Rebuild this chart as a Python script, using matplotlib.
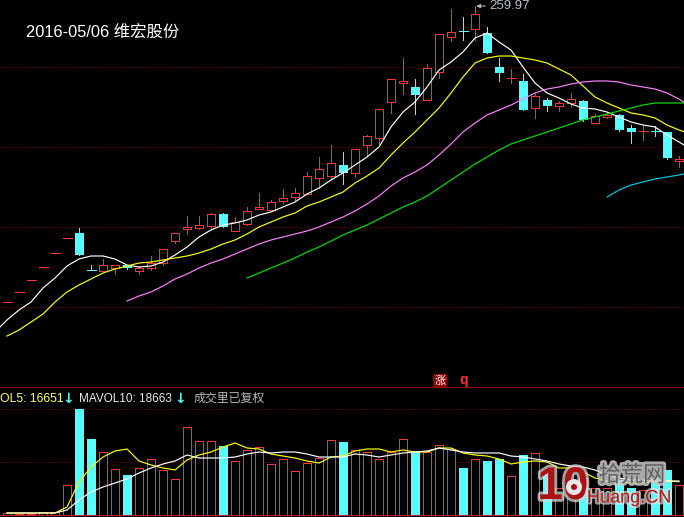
import matplotlib
matplotlib.use('Agg')
import matplotlib.pyplot as plt
import matplotlib.patheffects as pe
from matplotlib.patches import Circle, Rectangle

plt.rcParams['font.family'] = ['Liberation Sans', 'Noto Sans CJK SC', 'DejaVu Sans']

# candles, one row per trading day
OPEN = [112, 117, 123, 129.5, 136.5, 144, 146.5, 128, 127.5, 129, 130.5, 127.5, 129, 131.5, 142.5, 148.5, 149, 150, 156,
        147.5, 151, 158.5, 158, 162.5, 164.5, 166, 174, 175, 180.5, 176.5, 190.5, 194, 212, 221.5, 219.5, 213, 227, 244.5,
        247.5, 248.5, 246.5, 229.5, 224, 222.5, 209, 213, 210, 211.5, 212.5, 201.5, 204.5, 205.5, 199, 197.5, 197.5, 197, 182.5]
HIGH = [112, 117, 123, 129.5, 136.5, 144, 149, 130.5, 133.5, 130.5, 130.5, 130, 135, 138.5, 146.5, 155, 155, 156.5, 156.5,
        154.5, 159.5, 166.5, 163, 168.5, 169, 177, 184.5, 190.5, 187, 188.5, 195.5, 208.5, 223.5, 234, 223.5, 231, 246, 258.5,
        254.5, 259.97, 249.5, 234, 228.5, 226, 216.5, 214, 212.5, 216.5, 213, 206, 207, 206, 200.5, 200, 200, 197, 185]
LOW = [112, 117, 123, 129.5, 136.5, 144, 135.5, 128, 127.5, 126, 128.5, 126, 128, 130.5, 141.5, 146, 148.5, 149, 149.5,
       147.5, 150.5, 158.5, 158, 161.5, 163, 166, 169, 174, 171, 174.5, 185.5, 190.5, 206.5, 216, 206, 213, 224, 242.5,
       243, 243, 236.5, 222.5, 221.5, 208, 204, 207.5, 207.5, 209.5, 202.5, 201.5, 204, 197.5, 191.5, 193, 195, 183.5, 179.5]
CLOSE = [112, 117, 123, 129.5, 136.5, 144, 135.5, 128, 130.5, 130.5, 129, 129, 131.5, 138.5, 146.5, 149.5, 150.5, 156, 149.5,
         152, 157.5, 159.5, 162, 164, 166.5, 175, 178.5, 181.5, 176.5, 188.5, 195, 208.5, 223.5, 222.5, 215.5, 229, 246, 247,
         247.5, 256, 236.5, 226.5, 224, 208, 215, 210, 211.5, 213.5, 203, 205, 205.5, 198, 197, 197.5, 197.5, 184, 183.5]
CYAN_DOJI = [7, 38, 54]

# moving averages, ma5 starts one day before the first candle, all run one day past the last
MA5 = [97, 103, 108, 112, 119, 124, 130, 133.5, 135, 135, 133.5, 130.5, 129.5, 130, 132, 135.5, 139.5, 144.5, 148, 150.5,
       151.5, 153, 155.5, 157, 159.5, 162, 166, 169, 173, 176.5, 180.5, 184.5, 189.5, 199.5, 207, 212, 219.5, 228, 232,
       237, 244, 246.5, 242, 238, 229.5, 221.5, 216.5, 214, 211, 209, 208.5, 207, 204.5, 202, 200.5, 199.5, 195.5, 192, 188.5]
MA10 = [95, 98, 102, 106, 112, 117, 120.5, 123.5, 126.5, 128.5, 130, 131.5, 132, 133, 134, 135, 136.5, 138.5, 141,
        143, 146, 149.5, 152, 154.5, 156.5, 160, 162, 164.5, 167, 171.5, 175, 179, 185.5, 191.5, 197, 203, 209, 216.5,
        224.5, 231.5, 234, 235, 235, 234, 233, 231.5, 228.5, 225.5, 220, 214.5, 211.5, 209, 206.5, 205.5, 204, 200.5, 198, 196]
MA20 = [112.5, 115, 117, 120, 123.5, 126, 129, 131.5, 133.5, 136, 138.5, 141, 143, 144.5, 146, 147.5, 149.5, 152, 154.5, 157.5,
        161, 165, 170, 174, 177, 180.5, 185.5, 191, 197, 201.5, 205.5, 208, 210.5, 213.5, 216.5, 218.5, 219.5, 221,
        222, 222.5, 222.5, 222, 220.5, 219.5, 218.5, 216.5, 213.5, 209.5]
MA30 = [124, 126.5, 129, 131.5, 134, 137, 139.5, 142.5, 145.5, 148, 150.5, 153.5, 156.5, 159.5, 162, 165, 169, 173, 177,
        181, 184.5, 188, 191, 193, 195, 197, 199, 201, 203, 204.5, 206, 207.5, 209, 210.5, 211.5, 211.5, 211.5, 211.5]
MA60 = [164.5, 168, 170.5, 172, 173.5, 174.5, 175.5, 177]

# volume
VOLUME = [1000, 500, 500, 1500, 1500, 15000, 53000, 38000, 31500, 23000, 20000, 23500, 28000, 22500, 18000, 44000, 37000,
          37000, 34500, 27000, 32500, 34000, 25500, 28000, 22000, 26000, 28500, 37500, 36500, 32500, 31500, 28000, 31500,
          38000, 32000, 31500, 35000, 33000, 23500, 28000, 27000, 28000, 19500, 30000, 31000, 21500, 13500, 12500, 18500,
          13500, 13500, 17500, 13500, 12500, 18500, 22500, 15000]
MAVOL5 = [1000, 1000, 1000, 1000, 1000, 4000, 16500, 24000, 29000, 32000, 33000, 27000, 25000, 23500, 22500, 27500, 30000,
          31500, 34000, 36000, 33500, 33000, 30500, 29500, 28500, 27000, 26000, 29000, 29500, 32000, 33000, 33000, 31500,
          32500, 31500, 31500, 33500, 33500, 31000, 30000, 29500, 28000, 25500, 26500, 27000, 26500, 23500, 23500, 21500,
          18500, 17000, 16500, 16000, 16000, 17000, 17000, 16651]
MAVOL10 = [1000, 1000, 1000, 1000, 1000, 2500, 7500, 11500, 14000, 16000, 18000, 21000, 23500, 25500, 27000, 30000, 28500,
           28500, 28500, 29000, 30500, 31500, 31000, 31500, 31500, 30500, 29000, 29000, 29000, 30500, 30000, 29000, 30000,
           31000, 31500, 32000, 33500, 32500, 31500, 31000, 31000, 31000, 29500, 29000, 28000, 27000, 25500, 24500, 24000,
           22500, 20000, 18500, 17500, 17500, 17000, 17000, 17000]

PRICE_GRID = [229.5, 189.5, 149.5, 109.5]
VOL_GRID = [53000, 26500]

RED = '#ff3333'
CYAN = '#55ffff'
GRID = '#800000'
PX = 0.72  # one pixel at dpi 100
MA_LW = 0.85


def is_down(i):
    return CLOSE[i] < OPEN[i] or i in CYAN_DOJI


def draw_candles(ax):
    for i in range(len(OPEN)):
        color = CYAN if is_down(i) else RED
        ax.vlines(i, LOW[i], HIGH[i], color=color, lw=PX, zorder=2, antialiased=False)
        if OPEN[i] == CLOSE[i]:
            ax.hlines(OPEN[i], i - 0.375, i + 0.375, color=color, lw=PX, zorder=3, antialiased=False)
        elif is_down(i):
            ax.bar(i, OPEN[i] - CLOSE[i], bottom=CLOSE[i], width=0.75, color=CYAN, lw=0, zorder=3, antialiased=False)
        else:
            ax.bar(i, CLOSE[i] - OPEN[i], bottom=OPEN[i], width=0.67, facecolor='black', edgecolor=RED,
                   lw=PX, zorder=3, antialiased=False)


def draw_ma(ax):
    ax.plot(range(-1, 58), MA5, color='white', lw=MA_LW, zorder=4)
    ax.plot(range(0, 58), MA10, color='#ffff00', lw=MA_LW, zorder=4)
    ax.plot(range(10, 58), MA20, color='#ff80ff', lw=MA_LW, zorder=4)
    ax.plot(range(20, 58), MA30, color='#00e000', lw=MA_LW, zorder=4)
    ax.plot(range(50, 58), MA60, color='#00c8e8', lw=MA_LW, zorder=4)


def draw_volume(ax):
    for i, v in enumerate(VOLUME):
        if is_down(i):
            ax.bar(i, v, width=0.75, color=CYAN, lw=0, zorder=2, antialiased=False)
        else:
            ax.bar(i, v, width=0.67, facecolor='black', edgecolor=RED, lw=PX, zorder=2, antialiased=False)
    ax.plot(MAVOL5, color='#ffff00', lw=MA_LW, zorder=3)
    ax.plot(MAVOL10, color='white', lw=MA_LW, zorder=3)


def draw_overlay(ax):
    # header texts
    ax.text(26, 33, '2016-05/06 维宏股份', color='white', fontsize=11.8, va='center', ha='left')
    ax.text(0, 399, 'OL5: 16651', color='#ffff66', fontsize=8.8, va='center', ha='left')
    ax.text(68, 399, '↓', color=CYAN, fontsize=10, va='center', ha='center', fontweight='bold', family='DejaVu Sans')
    ax.text(79, 399, 'MAVOL10: 18663', color='#e8e8e8', fontsize=8.5, va='center', ha='left')
    ax.text(180, 399, '↓', color=CYAN, fontsize=10, va='center', ha='center', fontweight='bold', family='DejaVu Sans')
    ax.text(194, 399, '成交里已复权', color='#b8b8b8', fontsize=8.6, va='center', ha='left')

    # small badge above the volume panel
    ax.add_patch(Rectangle((433, 374), 14, 14, color='#8c0000', lw=0))
    ax.text(440, 381, '涨', color='white', fontsize=8, va='center', ha='center')
    ax.text(463.5, 380, 'q', color=RED, fontsize=10, va='center', ha='center', fontweight='bold')

    # site watermark
    ax.text(563, 487, '10', color='#a81414', fontsize=33, fontweight='bold', va='center', ha='center',
            path_effects=[pe.withStroke(linewidth=4, foreground='#d8d8d8', alpha=0.75)])
    ax.add_patch(Circle((574, 487), 8, color='#e8e8e8', lw=0, zorder=5))
    ax.add_patch(Circle((574, 487), 3, color='#a81414', lw=0, zorder=6))
    ax.text(632, 476, '拾荒网', color='#606060', fontsize=16, va='center', ha='center',
            path_effects=[pe.withStroke(linewidth=4, foreground='#c8c8c8', alpha=0.85)], zorder=7)
    ax.text(629, 498, 'Huang.CN', color='#b01c1c', fontsize=13, va='center', ha='center',
            path_effects=[pe.withStroke(linewidth=3, foreground='#e0e0e0', alpha=0.7)], zorder=7)


def main():
    fig = plt.figure(figsize=(6.84, 5.17), dpi=100, facecolor='black')

    # main panel spans rows 0-388, volume panel rows 389-517
    ax = fig.add_axes([0, 1 - 388 / 517, 1, 388 / 517])
    vol = fig.add_axes([0, 0, 1, 128 / 517])
    for a in (ax, vol):
        a.set_facecolor('black')
        a.set_xlim(-7 / 12, 677 / 12)
        a.axis('off')
    ax.set_ylim(69, 263)
    vol.set_ylim(-1000, 63000)

    for p in PRICE_GRID:
        ax.axhline(p, color=GRID, lw=PX, ls=(0, (1, 2)), zorder=1)
    for v in VOL_GRID:
        vol.axhline(v, color=GRID, lw=PX, ls=(0, (1, 2)), zorder=1)
    ax.axhline(69.3, color=GRID, lw=PX, zorder=1)
    vol.axhline(0, color='#c02020', lw=PX, zorder=4)

    draw_candles(ax)
    draw_ma(ax)
    draw_volume(vol)

    ax.annotate('259.97', xy=(39.1, 259.97), xytext=(40.2, 259.97), color='#b8c0c8', fontsize=9.5, va='center', ha='left',
                arrowprops=dict(arrowstyle='-|>', color='#b8b8b8', lw=PX, shrinkA=1, shrinkB=0, mutation_scale=6), zorder=5)

    over = fig.add_axes([0, 0, 1, 1], facecolor='none')
    over.set_xlim(0, 684)
    over.set_ylim(517, 0)
    over.axis('off')
    draw_overlay(over)

    fig.savefig('out.png', dpi=100, facecolor='black')


if __name__ == '__main__':
    main()
